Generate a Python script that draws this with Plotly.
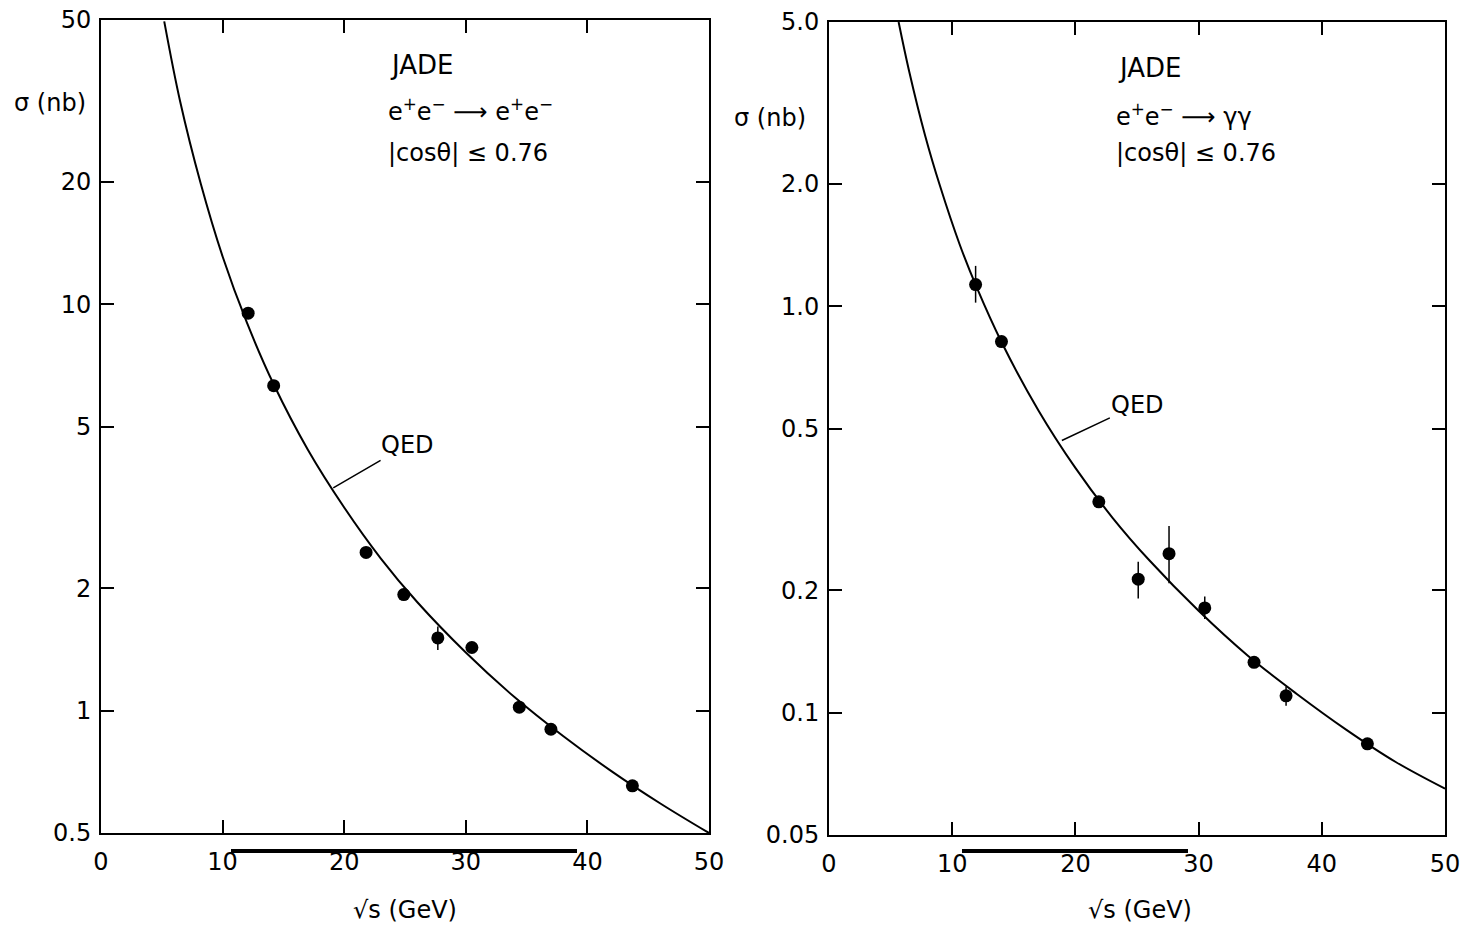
import math
import plotly.graph_objects as go

# ---------------- data ----------------
# left panel: e+e- -> e+e-
ee_x = [12.1, 14.2, 21.8, 24.9, 27.7, 30.5, 34.4, 37.0, 43.7]
ee_y = [9.5, 6.3, 2.45, 1.93, 1.51, 1.43, 1.02, 0.90, 0.653]
ee_err = [0, 0, 0, 0, 0.10, 0, 0, 0, 0]

ee_qed_x = [5.2, 6.5, 8.2, 10, 12, 14.2, 17, 20, 23, 26, 30, 34, 38, 42, 46, 50]
ee_qed_y = [49.6, 31.6, 19.8, 13.1, 9.0, 6.35, 4.39, 3.16, 2.37, 1.85, 1.39, 1.08,
            0.866, 0.709, 0.591, 0.5]

# right panel: e+e- -> gamma gamma
gg_x = [11.9, 14.0, 21.9, 25.1, 27.6, 30.5, 34.5, 37.1, 43.7]
gg_y = [1.13, 0.818, 0.330, 0.213, 0.246, 0.181, 0.133, 0.110, 0.0838]
gg_err_plus = [0.126, 0, 0, 0.022, 0.042, 0.012, 0, 0.006, 0]
gg_err_minus = [0.11, 0, 0, 0.022, 0.038, 0.011, 0, 0.006, 0]

gg_qed_x = [5.65, 6.5, 7.8, 9, 10.6, 12, 14, 17, 20, 23, 26, 30, 34, 38, 42, 46, 50]
gg_qed_y = [5.0, 3.79, 2.63, 1.98, 1.42, 1.11, 0.816, 0.554, 0.40, 0.302, 0.237,
            0.178, 0.138, 0.111, 0.0907, 0.0756, 0.065]

x_ticks = [0, 10, 20, 30, 40, 50]
ee_yticks = [0.5, 1, 2, 5, 10, 20, 50]
ee_yticktext = ["0.5", "1", "2", "5", "10", "20", "50"]
gg_yticks = [0.05, 0.1, 0.2, 0.5, 1, 2, 5]
gg_yticktext = ["0.05", "0.1", "0.2", "0.5", "1.0", "2.0", "5.0"]

# leader points on the QED curves
ee_qed_label_pt = (19.1, 3.53)
gg_qed_label_pt = (18.9, 0.467)

FONT = "DejaVu Sans"
W, H = 1465, 926

fig = go.Figure()

# left panel
fig.add_trace(go.Scatter(x=ee_qed_x, y=ee_qed_y, mode="lines", line=dict(color="black", width=2, shape="spline"),
                         xaxis="x", yaxis="y", showlegend=False, hoverinfo="skip"))
fig.add_trace(go.Scatter(x=ee_x, y=ee_y, mode="markers",
                         marker=dict(color="black", size=13),
                         error_y=dict(type="data", array=ee_err, visible=True, color="black", thickness=1.5, width=0),
                         xaxis="x", yaxis="y", showlegend=False))
# right panel
fig.add_trace(go.Scatter(x=gg_qed_x, y=gg_qed_y, mode="lines", line=dict(color="black", width=2, shape="spline"),
                         xaxis="x2", yaxis="y2", showlegend=False, hoverinfo="skip"))
fig.add_trace(go.Scatter(x=gg_x, y=gg_y, mode="markers",
                         marker=dict(color="black", size=13),
                         error_y=dict(type="data", symmetric=False, array=gg_err_plus, arrayminus=gg_err_minus,
                                      visible=True, color="black", thickness=1.5, width=0),
                         xaxis="x2", yaxis="y2", showlegend=False))

axis_common = dict(showline=True, linecolor="black", linewidth=2, mirror="ticks",
                   ticks="inside", ticklen=13, tickwidth=1.5, tickcolor="black",
                   showgrid=False, zeroline=False, automargin=False,
                   tickfont=dict(family=FONT, size=24, color="black"))

fig.update_layout(
    width=W, height=H, autosize=False,
    margin=dict(l=0, r=0, t=0, b=0, pad=0, autoexpand=False),
    paper_bgcolor="white", plot_bgcolor="white",
    xaxis=dict(domain=[101 / W, 709 / W], range=[0, 50], tickvals=x_ticks,
               ticklabelstandoff=6, anchor="y", **axis_common),
    yaxis=dict(domain=[1 - 833 / H, 1 - 20 / H], type="log",
               range=[math.log10(0.5), math.log10(50)], tickvals=ee_yticks, ticktext=ee_yticktext,
               ticklabelstandoff=3, anchor="x", **axis_common),
    xaxis2=dict(domain=[829 / W, 1445 / W], range=[0, 50], tickvals=x_ticks,
                ticklabelstandoff=6, anchor="y2", **axis_common),
    yaxis2=dict(domain=[1 - 835 / H, 1 - 22 / H], type="log",
                range=[math.log10(0.05), math.log10(5)], tickvals=gg_yticks, ticktext=gg_yticktext,
                ticklabelstandoff=3, anchor="x2", **axis_common),
)

tfont = dict(family=FONT, size=24, color="black")
jfont = dict(family=FONT, size=26, color="black")


def ptext(text, px, py, xanchor="left", font=tfont):
    return dict(text=text, x=px / W, y=1 - py / H, xref="paper", yref="paper",
                xanchor=xanchor, yanchor="middle", showarrow=False, font=font)


ann = [
    # left panel
    ptext("JADE", 388, 65, font=jfont),
    ptext("e<sup>+</sup>e<sup>−</sup> ⟶ e<sup>+</sup>e<sup>−</sup>", 386, 110),
    ptext("|cosθ| ≤ 0.76", 386, 153),
    ptext("σ (nb)", 50, 103, "center"),
    ptext("√s (GeV)", 405, 910, "center"),
    dict(text="QED", x=ee_qed_label_pt[0], y=math.log10(ee_qed_label_pt[1]), xref="x", yref="y",
         ax=74, ay=-43, showarrow=True, arrowhead=0, arrowwidth=1.5, arrowcolor="black", font=tfont),
    # right panel
    ptext("JADE", 1116, 68, font=jfont),
    ptext("e<sup>+</sup>e<sup>−</sup> ⟶ γγ", 1114, 115),
    ptext("|cosθ| ≤ 0.76", 1114, 153),
    ptext("σ (nb)", 770, 118, "center"),
    ptext("√s (GeV)", 1140, 910, "center"),
    dict(text="QED", x=gg_qed_label_pt[0], y=math.log10(gg_qed_label_pt[1]), xref="x2", yref="y2",
         ax=76, ay=-36, showarrow=True, arrowhead=0, arrowwidth=1.5, arrowcolor="black", font=tfont),
]
fig.update_layout(annotations=ann)

# scan artefact bars under the x axes
fig.add_shape(type="line", xref="paper", yref="paper", x0=231 / W, x1=577 / W, y0=1 - 851 / H, y1=1 - 851 / H,
              line=dict(color="black", width=4), layer="below")
fig.add_shape(type="line", xref="paper", yref="paper", x0=962 / W, x1=1188 / W, y0=1 - 851 / H, y1=1 - 851 / H,
              line=dict(color="black", width=4), layer="below")

fig.write_html("out.html")
